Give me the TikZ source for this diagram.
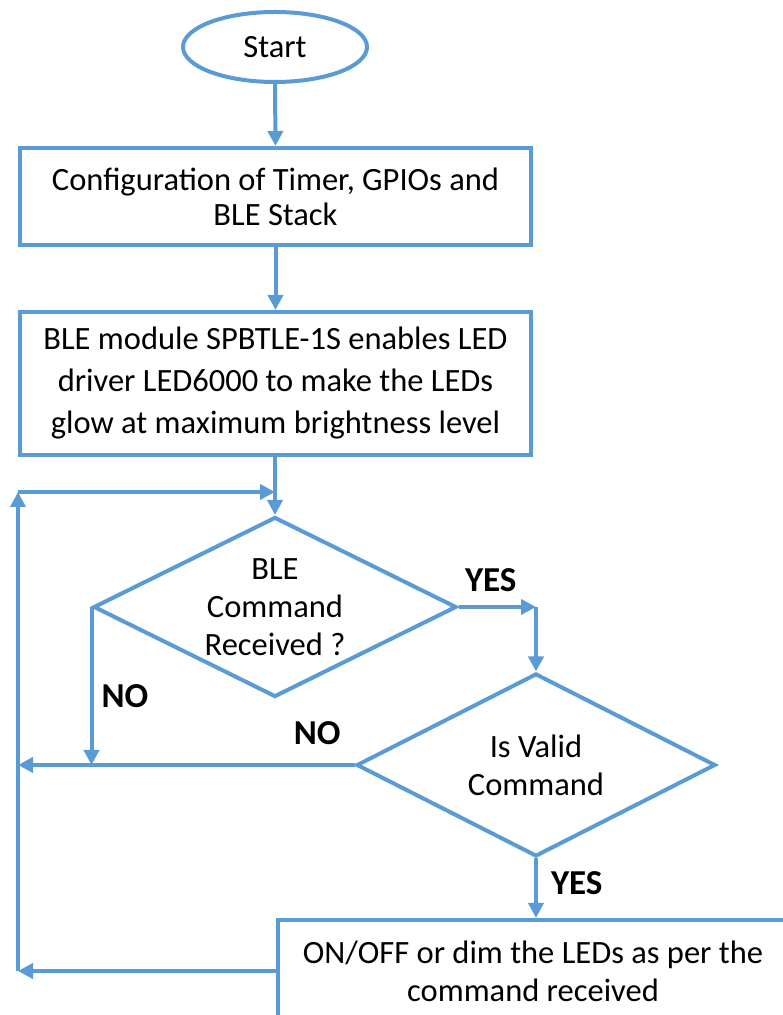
\documentclass[tikz,border=0pt]{standalone}
\usepackage{fontspec}
\setmainfont{Carlito}
\usetikzlibrary{shapes.geometric,arrows.meta}
\definecolor{flowblue}{RGB}{91,155,213}
\tikzset{
  flowline/.style={flowblue, line width=4pt},
  flowarrow/.style={flowline, -{Triangle[length=15pt,width=15pt]}},
  procbox/.style={draw=flowblue, line width=4pt, minimum width=511pt, align=center, inner sep=0pt},
  decision/.style={diamond, aspect=2, draw=flowblue, line width=4pt, inner sep=0pt, align=center,
    font=\fontsize{32.5}{38}\selectfont},
  answer/.style={text=black, inner sep=0pt, font=\bfseries\fontsize{35}{40}\selectfont}
}
\begin{document}
\begin{tikzpicture}[x=1pt,y=1pt]
    \useasboundingbox (0,0) rectangle (783,1015);
    \clip (0,0) rectangle (783,1015);

    % start and process boxes
    \node[ellipse, draw=flowblue, line width=4pt, minimum width=184pt, minimum height=70pt,
      font=\fontsize{32.5}{38}\selectfont] (start) at (275,968) {Start};
    \node[procbox, minimum height=97pt, font=\fontsize{32.5}{35}\selectfont] (config) at (275.5,818.5)
      {Configuration of Timer, GPIOs and\\BLE Stack};
    \node[procbox, minimum height=143pt, font=\fontsize{32.5}{42}\selectfont] (enable) at (275.5,631.5)
      {BLE module SPBTLE-1S enables LED\\driver LED6000 to make the LEDs\\glow at maximum brightness level};

    % decisions
    \node[decision, minimum width=363pt, minimum height=180pt] (received) at (275,408)
      {BLE\\Command\\Received ?};
    \node[decision, minimum width=359pt, minimum height=183pt] (valid) at (536,250)
      {Is Valid\\Command};

    % action box, cut by the page edge
    \node[procbox, minimum height=102pt, font=\fontsize{32.5}{38}\selectfont] (action) at (533,44)
      {ON/OFF or dim the LEDs as per the\\command received};

    % turning points
    \coordinate (loopjoin) at (received.north |- 0,523);
    \coordinate (looptop) at (18,523);
    \coordinate (loopbottom) at (18,0 |- action.west);
    \coordinate (noleft) at (18,0 |- valid.west);
    \coordinate (nodown) at (received.west |- valid.west);
    \coordinate (yesturn) at (valid.north |- received.east);

    % main flow
    \draw[flowarrow] (start.south) -- (config.north);
    \draw[flowarrow] (config.south) -- (enable.north);
    \draw[flowarrow] (enable.south -| received.north) -- (received.north);

    % yes branches
    \draw[flowarrow] (received.east) -- node[answer, above=13pt, xshift=-6.5pt] {YES} (yesturn);
    \draw[flowarrow] (yesturn) -- (valid.north);
    \draw[flowarrow] (valid.south) -- node[answer, right=13pt, pos=0.41] {YES} (valid.south |- action.north);

    % no branches
    \draw[flowarrow] (received.west) -- node[answer, right=8pt, pos=0.563] {NO} (nodown);
    \draw[flowarrow] (valid.west) -- node[answer, above=18pt, pos=0.111] {NO} (noleft);

    % loop back
    \draw[flowarrow] (action.west) -- (loopbottom);
    \draw[flowarrow] (loopbottom) -- (looptop);
    \draw[flowarrow] (looptop) -- (loopjoin);
\end{tikzpicture}
\end{document}
